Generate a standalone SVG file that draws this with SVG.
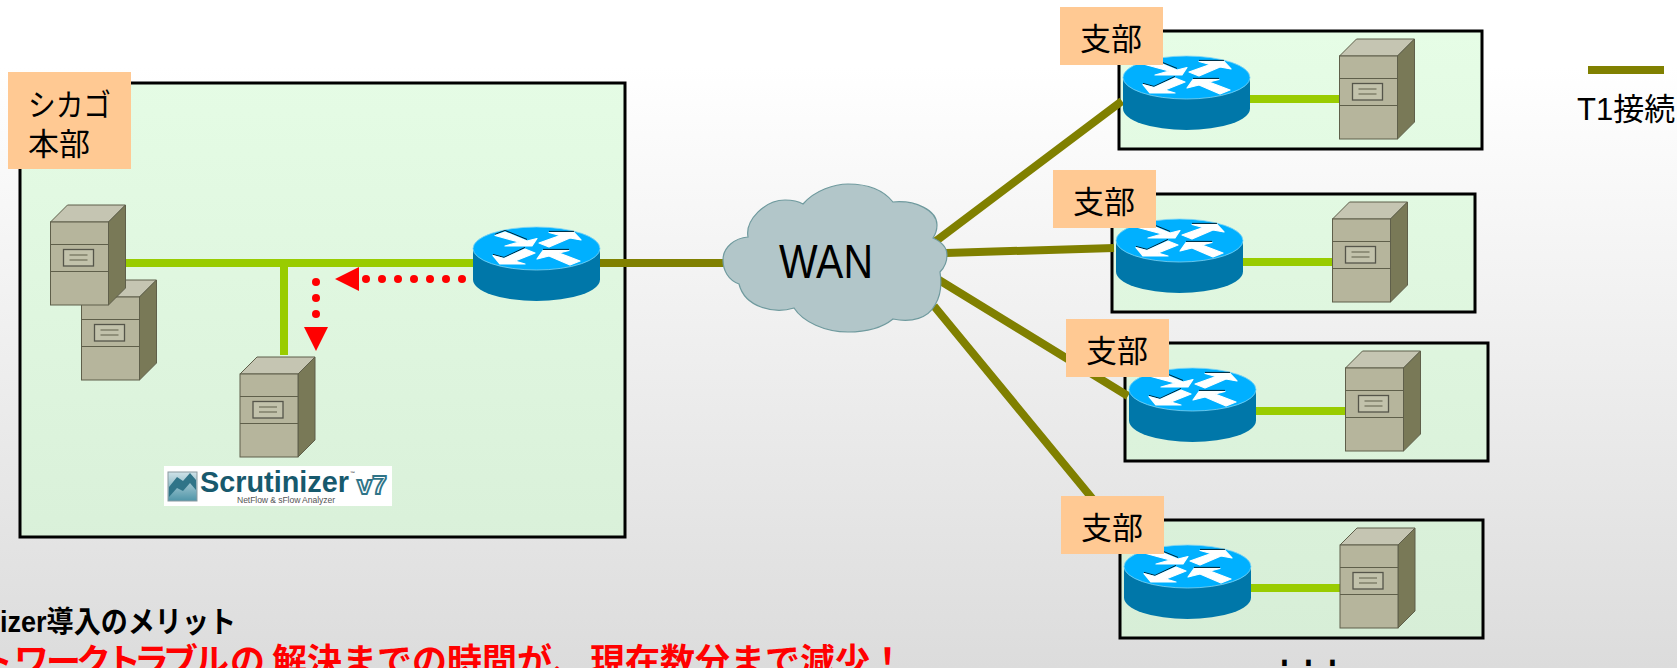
<svg xmlns="http://www.w3.org/2000/svg" xmlns:xlink="http://www.w3.org/1999/xlink" width="1677" height="668" viewBox="0 0 1677 668">
<style>
text{font-family:"Liberation Sans","Noto Sans CJK JP",sans-serif;fill:#000}
.box{fill:url(#boxg);stroke:#000;stroke-width:3}
.tag{fill:#ffc993}
.lbl{font-size:31px}
.t1{stroke:#808000;stroke-width:8;fill:none}
.lan{stroke:#99cc00;stroke-width:8;fill:none}
.dot{fill:#f00}
.sv-l{fill:none;stroke:#5f5f4a;stroke-width:1.2}
.ra{fill:#fff;stroke:#fff;stroke-width:1.2;stroke-linejoin:round}
</style>
<defs>
<linearGradient id="bg" gradientUnits="userSpaceOnUse" x1="0" y1="67" x2="0" y2="668"><stop offset="0" stop-color="#fff"/><stop offset="1" stop-color="#dcdcdc"/></linearGradient>
<linearGradient id="boxg" gradientUnits="userSpaceOnUse" x1="0" y1="30" x2="0" y2="640"><stop offset="0" stop-color="#e6fde6"/><stop offset="1" stop-color="#d7eed7"/></linearGradient>
<linearGradient id="icon" x1="0" y1="0" x2="0" y2="1"><stop offset="0" stop-color="#cfe2e8"/><stop offset="1" stop-color="#4f95a8"/></linearGradient>
<g id="router">
<path d="M0 21.5V52.5A63.5 21.5 0 0 0 127 52.5V21.5Z" fill="#0077a9"/>
<ellipse cx="63.5" cy="21.5" rx="63.5" ry="21.5" fill="#00b0ff" stroke="#7fd4f5" stroke-width="0.8"/>
<path d="M22 7.4L32 3.4L54 12.4M20 27.4L31 30.4L52 20.4M70 22.4L96 22.4M76 4.4L101 4.4" fill="none" stroke="#000" stroke-width="0.8"/>
<path class="ra" d="M22 8.5L32 5L54 14L64 11.5L59 19L32 19L46 15Z"/>
<path class="ra" d="M66 16L87 8.5L76 5.5L101 5.5L108 13L97 11L76 20Z"/>
<path class="ra" d="M20 28.5L31 31.5L52 22L62 26L42 34L52 37L27 37Z"/>
<path class="ra" d="M64 32L70 23.5L96 23.5L86 26L107 34L97 38L76 29Z"/>
</g>
<g id="server">
<path d="M0 17L17 0H75L58 17Z" fill="#c5c5b2" stroke="#5f5f4a"/>
<path d="M58 17L75 0V83L58 100Z" fill="#797957" stroke="#5f5f4a"/>
<rect x="0" y="17" width="58" height="83" fill="#b6b59c" stroke="#5f5f4a"/>
<path class="sv-l" d="M0 39.5H58M0 66.5H58"/>
<rect x="13" y="44.5" width="30" height="16.5" fill="#c2c2ab" stroke="#55554a" stroke-width="1.3"/>
<path class="sv-l" d="M19 50H37M19 55H37"/>
</g>
</defs>
<rect width="1677" height="668" fill="url(#bg)"/>
<g id="areas">
<rect class="box" x="20" y="83" width="605" height="454"/>
<rect class="box" x="1119" y="31" width="363" height="118"/>
<rect class="box" x="1112" y="194" width="363" height="118"/>
<rect class="box" x="1125" y="343" width="363" height="118"/>
<rect class="box" x="1120" y="520" width="363" height="118"/>
</g>
<g id="connectors">
<path class="lan" d="M125 263H473M284 263V355"/>
<path class="lan" d="M1250 99H1340M1243 262H1333M1256 411H1346M1251 588H1341"/>
<path class="t1" d="M600 263H724M936 241L1122 101M946 253L1114 248M939 280L1128 396M934 306L1096 503M1588 70H1664"/>
<g id="flow">
<circle class="dot" cx="462" cy="279" r="4"/><circle class="dot" cx="446" cy="279" r="4"/><circle class="dot" cx="430" cy="279" r="4"/><circle class="dot" cx="414" cy="279" r="4"/><circle class="dot" cx="398" cy="279" r="4"/><circle class="dot" cx="382" cy="279" r="4"/><circle class="dot" cx="366" cy="279" r="4"/>
<path class="dot" d="M335 279L359 267V291Z"/>
<circle class="dot" cx="316" cy="282" r="4"/><circle class="dot" cx="316" cy="298" r="4"/><circle class="dot" cx="316" cy="314" r="4"/>
<path class="dot" d="M304 327H328L316 351Z"/>
</g>
</g>
<g id="wan">
<path d="M803 204C815 190 835 184 848 184C870 184 885 192 893 202C915 200 937 210 937 225C937 230 935 235 933 238C942 242 947 248 947 255C947 262 944 268 940 272C942 285 940 297 935 305C928 318 912 323 893 319C882 328 865 332 848 332C825 332 803 322 794 308C775 314 745 308 739 284C728 280 723 270 723 260C723 247 735 238 748 237C745 220 765 200 785 200C792 200 798 201 803 204Z" fill="#b2c6c9" stroke="#6f9a9e" stroke-width="1.2"/>
<text x="779" y="278" font-size="48" textLength="94" lengthAdjust="spacingAndGlyphs">WAN</text>
</g>
<g id="hq">
<use xlink:href="#server" href="#server" x="81.5" y="280"/>
<use xlink:href="#server" href="#server" x="50.5" y="205"/>
<use xlink:href="#server" href="#server" x="240" y="357"/>
<use xlink:href="#router" href="#router" x="473" y="227"/>
<rect class="tag" x="8" y="72" width="123" height="97"/>
<text class="lbl" x="28" y="116" textLength="83" lengthAdjust="spacingAndGlyphs">シカゴ</text>
<text class="lbl" x="28" y="155">本部</text>
</g>
<g id="scrutinizer-logo">
<rect x="164" y="466" width="228" height="40" fill="#fff"/>
<rect x="168" y="472" width="29" height="29" fill="url(#icon)" stroke="#8a9aa0"/>
<path d="M169 487L177 477L183 481L190 473L196 480V490L190 483L183 491L177 488L169 497Z" fill="#2f7488"/>
<text x="200" y="492" font-size="29" font-weight="700" textLength="149" lengthAdjust="spacingAndGlyphs" style="fill:#17596d">Scrutinizer</text>
<text x="350" y="475" font-size="5" font-weight="700" style="fill:#555">™</text>
<text x="357" y="494" font-size="26" font-weight="700" textLength="30" lengthAdjust="spacingAndGlyphs" style="fill:#fff;stroke:#2f7488;stroke-width:1.8">v7</text>
<text x="237" y="503" font-size="8.6" textLength="98" style="fill:#555">NetFlow &amp; sFlow Analyzer</text>
</g>
<g id="branch1">
<use xlink:href="#router" href="#router" x="1123" y="56"/>
<use xlink:href="#server" href="#server" x="1339.5" y="39"/>
<rect class="tag" x="1060" y="7" width="103" height="58"/>
<text class="lbl" x="1080" y="50">支部</text>
</g>
<g id="branch2">
<use xlink:href="#router" href="#router" x="1116" y="219"/>
<use xlink:href="#server" href="#server" x="1332.5" y="202"/>
<rect class="tag" x="1053" y="170" width="103" height="58"/>
<text class="lbl" x="1073" y="213">支部</text>
</g>
<g id="branch3">
<use xlink:href="#router" href="#router" x="1129" y="368"/>
<use xlink:href="#server" href="#server" x="1345.5" y="351"/>
<rect class="tag" x="1066" y="319" width="103" height="58"/>
<text class="lbl" x="1086" y="362">支部</text>
</g>
<g id="branch4">
<use xlink:href="#router" href="#router" x="1124" y="545"/>
<use xlink:href="#server" href="#server" x="1340" y="528"/>
<rect class="tag" x="1061" y="496" width="103" height="58"/>
<text class="lbl" x="1081" y="539">支部</text>
</g>
<text transform="translate(0 666) scale(1 1.3)" x="1280 1304 1328" y="0" font-size="32" font-weight="700">...</text>
<text class="lbl" x="1577" y="120">T1接続</text>
<text x="0" y="632" font-size="30" font-weight="700" textLength="236" lengthAdjust="spacingAndGlyphs">izer導入のメリット</text>
<text x="-22 14 46 76 106 134 163 194 230 272 307 342 377 412 447 482 517 552 590 625 660 695 730 765 800 835 870" y="674" font-size="35" font-weight="700" style="fill:#f00">トワークトラブルの解決までの時間が、現在数分まで減少！</text>
</svg>
